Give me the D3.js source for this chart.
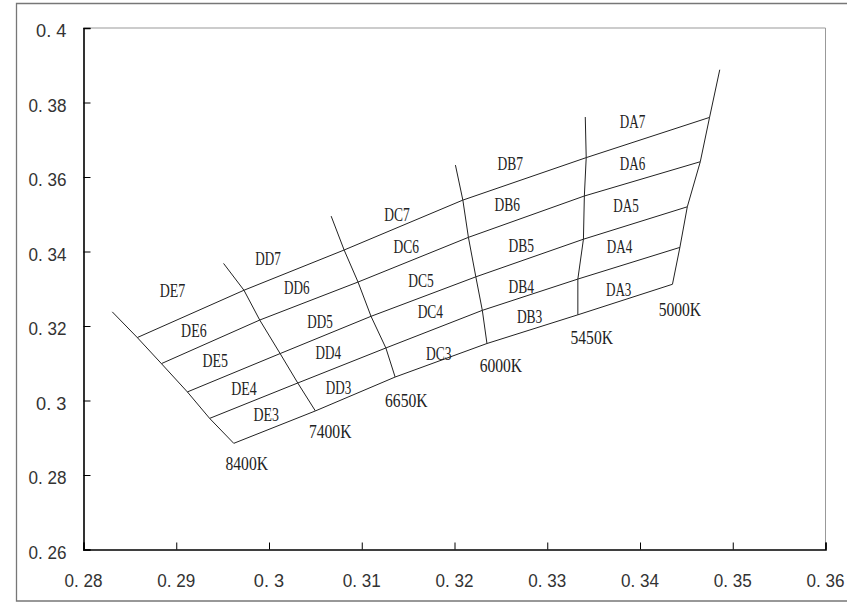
<!DOCTYPE html>
<html>
<head>
<meta charset="utf-8">
<script src="https://cdn.jsdelivr.net/npm/d3@7"></script>
<style>
  body { margin: 0; background: #fff; }
  svg { display: block; }
</style>
</head>
<body>
<svg id="chart" width="847" height="603"></svg>
<script>
// ---- data ----
const cctNames = ["8400K", "7400K", "6650K", "6000K", "5450K", "5000K"];
// isotherm nodes, listed per level (bottom edge of row 3 ... top extension)
const xBottom = [0.2962, 0.3050, 0.3136, 0.3235, 0.3333, 0.3435];
const yBottom = [0.2885, 0.2972, 0.3063, 0.3153, 0.3230, 0.3312];
const x34 = [0.2936, 0.3031, 0.3126, 0.3230, 0.3333, 0.3443];
const y34 = [0.2952, 0.3047, 0.3141, 0.3242, 0.3326, 0.3411];
const x45 = [0.2912, 0.3012, 0.3110, 0.3223, 0.3339, 0.3451];
const y45 = [0.3023, 0.3126, 0.3226, 0.3332, 0.3433, 0.3520];
const x56 = [0.2884, 0.2990, 0.3096, 0.3215, 0.3340, 0.3465];
const y56 = [0.3099, 0.3216, 0.3318, 0.3438, 0.3549, 0.3641];
const x67 = [0.2858, 0.2973, 0.3081, 0.3209, 0.3342, 0.3475];
const y67 = [0.3169, 0.3296, 0.3404, 0.3538, 0.3652, 0.3760];
const xTop = [0.2831, 0.2951, 0.3067, 0.3201, 0.3341, 0.3486];
const yTop = [0.3238, 0.3368, 0.3495, 0.3632, 0.3761, 0.3888];

// region labels
const regionNames = ["DE7","DE6","DE5","DE4","DE3",
                     "DD7","DD6","DD5","DD4","DD3",
                     "DC7","DC6","DC5","DC4","DC3",
                     "DB7","DB6","DB5","DB4","DB3",
                     "DA7","DA6","DA5","DA4","DA3"];
const regionX = [0.2896,0.2919,0.2942,0.2973,0.2997,
                 0.2999,0.3030,0.3055,0.3064,0.3075,
                 0.3138,0.3148,0.3164,0.3174,0.3183,
                 0.3260,0.3257,0.3272,0.3272,0.3281,
                 0.3392,0.3392,0.3385,0.3378,0.3377];
const regionY = [0.3296,0.3189,0.3106,0.3032,0.2961,
                 0.3382,0.3303,0.3211,0.3128,0.3035,
                 0.3500,0.3414,0.3323,0.3238,0.3126,
                 0.3636,0.3527,0.3415,0.3305,0.3226,
                 0.3748,0.3636,0.3524,0.3412,0.3298];
// CCT labels
const cctLabelX = [0.2976, 0.3066, 0.3148, 0.3250, 0.3348, 0.3443];
const cctLabelY = [0.2832, 0.2918, 0.3001, 0.3095, 0.3169, 0.3244];

// axis ticks
const xTicks = [0.28, 0.29, 0.30, 0.31, 0.32, 0.33, 0.34, 0.35, 0.36];
const xTickLabels = ["0. 28","0. 29","0. 3","0. 31","0. 32","0. 33","0. 34","0. 35","0. 36"];
const yTicks = [0.26, 0.28, 0.30, 0.32, 0.34, 0.36, 0.38, 0.40];
const yTickLabels = ["0. 26","0. 28","0. 3","0. 32","0. 34","0. 36","0. 38","0. 4"];

// ---- drawing ----
(function () {
const svg = d3.select("#chart");
const pL = 83.5, pR = 825.5, pT = 28, pB = 549.5;
const FONT = "'Liberation Serif', 'DejaVu Serif', serif";
const TFONT = "'Liberation Sans', 'DejaVu Sans', sans-serif";

const x = d3.scaleLinear().domain([0.28, 0.36]).range([pL, pR]);
const y = d3.scaleLinear().domain([0.26, 0.40]).range([pB, pT]);

// outer frame (right edge lies outside the picture)
svg.append("path")
  .attr("d", "M850,3.5H16.5V601H850")
  .attr("fill", "none").attr("stroke", "#777").attr("stroke-width", 1.3);

// plot border (top & right)
svg.append("path")
  .attr("d", `M${pL},${pT}H${pR}V${pB}`)
  .attr("fill", "none").attr("stroke", "#999").attr("stroke-width", 1);

// axes
const xAxis = d3.axisBottom(x).tickValues(xTicks).tickSize(-7).tickFormat("");
const yAxis = d3.axisLeft(y).tickValues(yTicks).tickSize(-7).tickFormat("");
const gx = svg.append("g").attr("transform", `translate(0,${pB})`).call(xAxis);
const gy = svg.append("g").attr("transform", `translate(${pL},0)`).call(yAxis);
[gx, gy].forEach(g => {
  g.select(".domain").attr("stroke", "#000").attr("stroke-width", 1.6);
  g.selectAll(".tick line").attr("stroke", "#000").attr("stroke-width", 1);
});

// tick labels
const tickW = 7.6;
svg.append("g").selectAll("text").data(xTicks).join("text")
  .attr("x", d => x(d)).attr("y", pB + 37)
  .attr("text-anchor", "middle")
  .attr("font-family", TFONT).attr("font-size", 18).attr("fill", "#333")
  .attr("textLength", (d, i) => xTickLabels[i].length * tickW).attr("lengthAdjust", "spacingAndGlyphs")
  .text((d, i) => xTickLabels[i]);
svg.append("g").selectAll("text").data(yTicks).join("text")
  .attr("x", pL - 17).attr("y", d => y(d) + 9)
  .attr("text-anchor", "end")
  .attr("font-family", TFONT).attr("font-size", 18).attr("fill", "#333")
  .attr("textLength", (d, i) => yTickLabels[i].length * tickW).attr("lengthAdjust", "spacingAndGlyphs")
  .text((d, i) => yTickLabels[i]);

// grid lines
const levelsX = [xBottom, x34, x45, x56, x67, xTop];
const levelsY = [yBottom, y34, y45, y56, y67, yTop];
const line = d3.line().x(d => x(d[0])).y(d => y(d[1]));
const gGrid = svg.append("g").attr("fill", "none").attr("stroke", "#222").attr("stroke-width", 1);

// horizontal-ish lines (first five levels, across all isotherms)
for (let l = 0; l < 5; l++) {
  const pts = cctNames.map((c, i) => [levelsX[l][i], levelsY[l][i]]);
  gGrid.append("path").attr("d", line(pts));
}
// isotherms (all six levels)
cctNames.forEach((c, i) => {
  const pts = levelsX.map((lx, l) => [lx[i], levelsY[l][i]]);
  gGrid.append("path").attr("d", line(pts));
});

// labels
const charW = 8.5;
svg.append("g").selectAll("text").data(regionNames).join("text")
  .attr("x", (d, i) => x(regionX[i])).attr("y", (d, i) => y(regionY[i]))
  .attr("dy", "0.34em")
  .attr("text-anchor", "middle")
  .attr("font-family", FONT).attr("font-size", 19).attr("fill", "#222")
  .attr("textLength", d => d.length * charW).attr("lengthAdjust", "spacingAndGlyphs")
  .text(d => d);
svg.append("g").selectAll("text").data(cctNames).join("text")
  .attr("x", (d, i) => x(cctLabelX[i])).attr("y", (d, i) => y(cctLabelY[i]))
  .attr("dy", "0.34em")
  .attr("text-anchor", "middle")
  .attr("font-family", FONT).attr("font-size", 19).attr("fill", "#222")
  .attr("textLength", d => d.length * charW).attr("lengthAdjust", "spacingAndGlyphs")
  .text(d => d);
})();
</script>
</body>
</html>
